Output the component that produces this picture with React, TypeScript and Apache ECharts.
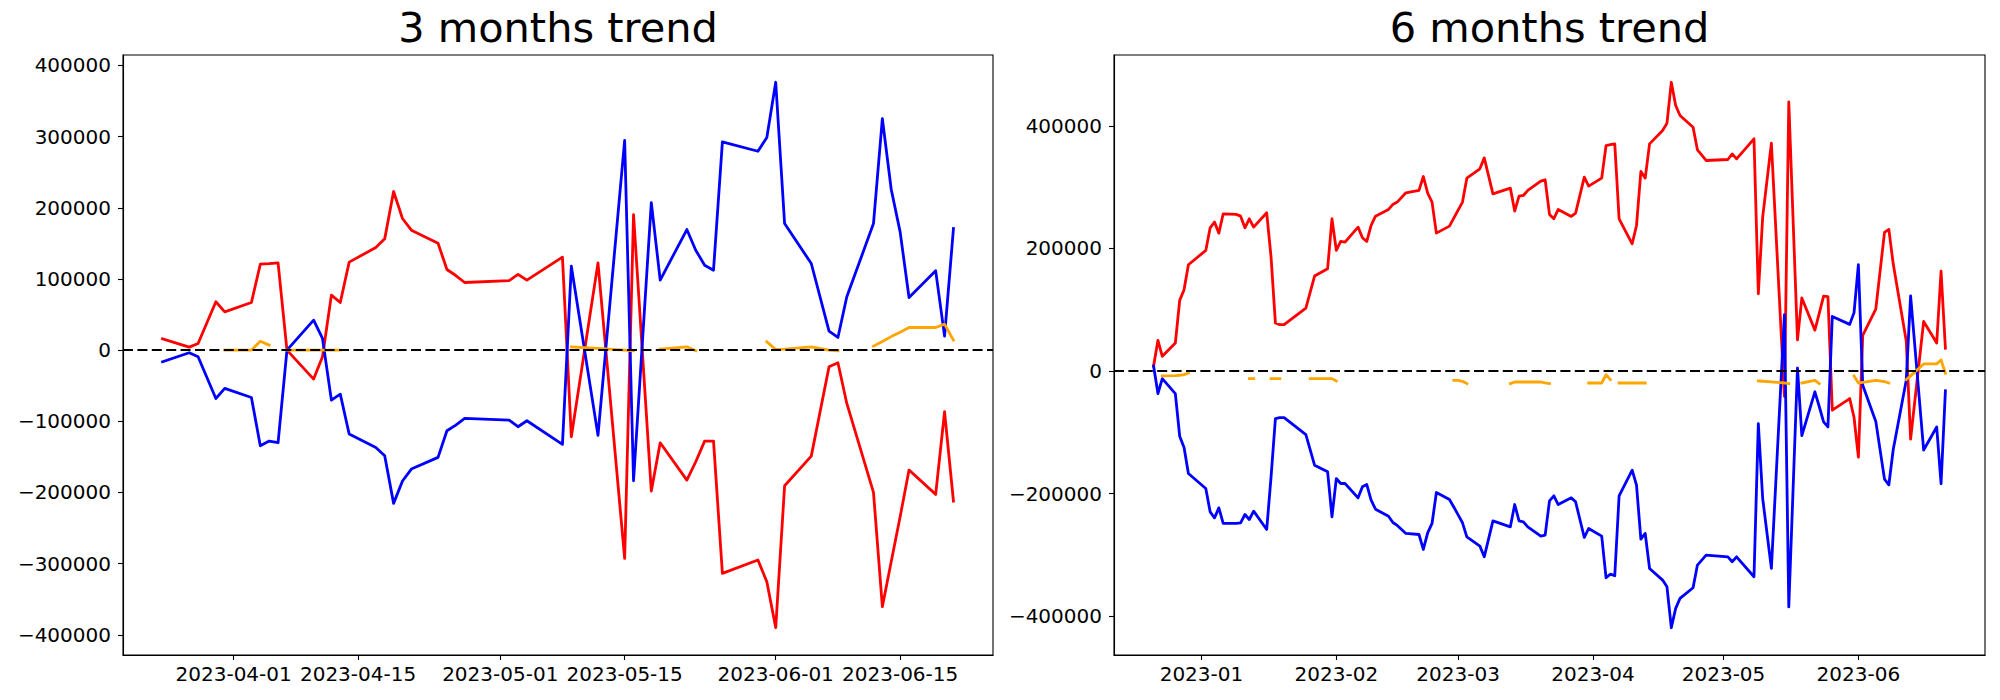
import React, { useEffect, useRef } from "react";
import * as echarts from "echarts";

// ---------- 3 months trend ----------
const dates3m = [
  "2023-03-24", "2023-03-27", "2023-03-28", "2023-03-30", "2023-03-31",
  "2023-04-03", "2023-04-04", "2023-04-05", "2023-04-06", "2023-04-07",
  "2023-04-10", "2023-04-11", "2023-04-12", "2023-04-13", "2023-04-14",
  "2023-04-17", "2023-04-18", "2023-04-19", "2023-04-20", "2023-04-21",
  "2023-04-24", "2023-04-25", "2023-04-26", "2023-04-27", "2023-05-02",
  "2023-05-03", "2023-05-04", "2023-05-08", "2023-05-09", "2023-05-12",
  "2023-05-15", "2023-05-16", "2023-05-18", "2023-05-19", "2023-05-22",
  "2023-05-23", "2023-05-24", "2023-05-25", "2023-05-26", "2023-05-30",
  "2023-05-31", "2023-06-01", "2023-06-02", "2023-06-05", "2023-06-07",
  "2023-06-08", "2023-06-09", "2023-06-12", "2023-06-13", "2023-06-14",
  "2023-06-15", "2023-06-16", "2023-06-19", "2023-06-20", "2023-06-21",
];
const red3m = [
  15900, 4200, 9400, 67900, 53800,
  66900, 120700, 121500, 122600, 0,
  -40700, -9400, 77200, 66900, 123600,
  144100, 156300, 222800, 184900, 168500,
  150200, 113300, 104800, 95000, 97500,
  106500, 98300, 130600, -121700, 122600,
  -292600, 190500, -198000, -130200, -182600,
  -156800, -127800, -127800, -313700, -294900,
  -325400, -390000, -190500, -148900, -23400,
  -17800, -74900, -199900, -360500, -297000,
  -234100, -168500, -202700, -86600, -212100,
];
const blue3m = [
  -16400, -3700, -9400, -67900, -53800,
  -66500, -134400, -127800, -130100, 0,
  42100, 16400, -70200, -61800, -117900,
  -136700, -148400, -215300, -183900, -167100,
  -150700, -113300, -105300, -95900, -98300,
  -107600, -99200, -132400, 117900, -119800,
  294800, -183500, 207300, 98300, 169400,
  140400, 119300, 112300, 292500, 279400,
  298600, 376300, 177800, 121700, 26700,
  17800, 74900, 177800, 325300, 225600,
  166100, 73900, 111400, 19700, 170800,
];
const orange3m = [
  null, null, null, null, 0,
  0, 12600, 7000, null, 0,
  0, 0, 0, 0, null,
  null, null, null, null, null,
  null, null, null, null, null,
  null, null, null, 4500, 2500,
  0, -1000, null, 1400, 4700,
  -900, null, null, null, null,
  11700, 900, 1500, 4700, 0,
  -900, null, 5600, 12000, 19000,
  25000, 31800, 31800, 36500, 14000,
];
const xTicks3m = ["2023-04-01", "2023-04-15", "2023-05-01", "2023-05-15", "2023-06-01", "2023-06-15"];
const yTicks3m = [-400000, -300000, -200000, -100000, 0, 100000, 200000, 300000, 400000];

// ---------- 6 months trend ----------
const dates6m = [
  "2022-12-21", "2022-12-22", "2022-12-23", "2022-12-26", "2022-12-27",
  "2022-12-28", "2022-12-29", "2023-01-02", "2023-01-03", "2023-01-04",
  "2023-01-05", "2023-01-06", "2023-01-09", "2023-01-10", "2023-01-11",
  "2023-01-12", "2023-01-13", "2023-01-16", "2023-01-17", "2023-01-18",
  "2023-01-19", "2023-01-20", "2023-01-25", "2023-01-26", "2023-01-27",
  "2023-01-30", "2023-01-31", "2023-02-01", "2023-02-02", "2023-02-03",
  "2023-02-06", "2023-02-07", "2023-02-08", "2023-02-09", "2023-02-10",
  "2023-02-13", "2023-02-14", "2023-02-15", "2023-02-17", "2023-02-20",
  "2023-02-21", "2023-02-22", "2023-02-23", "2023-02-24", "2023-02-27",
  "2023-02-28", "2023-03-01", "2023-03-02", "2023-03-03", "2023-03-06",
  "2023-03-07", "2023-03-09", "2023-03-13", "2023-03-14", "2023-03-15",
  "2023-03-16", "2023-03-17", "2023-03-20", "2023-03-21", "2023-03-22",
  "2023-03-23", "2023-03-24", "2023-03-27", "2023-03-28", "2023-03-30",
  "2023-03-31", "2023-04-03", "2023-04-04", "2023-04-05", "2023-04-06",
  "2023-04-07", "2023-04-10", "2023-04-11", "2023-04-12", "2023-04-13",
  "2023-04-14", "2023-04-17", "2023-04-18", "2023-04-19", "2023-04-20",
  "2023-04-21", "2023-04-24", "2023-04-25", "2023-04-27", "2023-05-02",
  "2023-05-03", "2023-05-04", "2023-05-08", "2023-05-09", "2023-05-10",
  "2023-05-12", "2023-05-15", "2023-05-16", "2023-05-18", "2023-05-19",
  "2023-05-22", "2023-05-23", "2023-05-24", "2023-05-25", "2023-05-26",
  "2023-05-30", "2023-05-31", "2023-06-01", "2023-06-02", "2023-06-05",
  "2023-06-07", "2023-06-08", "2023-06-09", "2023-06-12", "2023-06-13",
  "2023-06-16", "2023-06-19", "2023-06-20", "2023-06-21",
];
const red6m = [
  8000, 50000, 23900, 45600, 115200,
  132600, 173300, 196700, 233600, 242900,
  224900, 256400, 255400, 252600, 233600,
  248300, 234700, 258100, 185800, 78200,
  75500, 75500, 102700, 128800, 154800,
  166800, 248300, 196700, 211300, 210300,
  234700, 217300, 211300, 237400, 252600,
  263500, 271700, 275500, 290700, 294500,
  317300, 290100, 275500, 224900, 236300,
  249400, 262400, 275500, 314600, 329800,
  347700, 289000, 298300, 260800, 285200,
  286300, 294500, 309700, 311900, 255400,
  248300, 263500, 252100, 257500, 316200,
  301500, 314600, 367800, 369400, 370500,
  248300, 207500, 237400, 325400, 314600,
  370500, 392300, 404200, 471000, 433000,
  416700, 397700, 360800, 343400, 345000,
  354200, 346100, 378700, 126000, 251000,
  371500, -41500, 438800, 50600, 119200,
  66600, 94000, 122000, 121400, -64000,
  -45000, -75900, -140700, 58100, 101000,
  226200, 231000, 174800, 49000, -111200,
  80700, 45600, 162700, 37100,
];
const blue6m = [
  8000, -36900, -12500, -36900, -106500,
  -125000, -167300, -191800, -229800, -239600,
  -223300, -248800, -248800, -247700, -234200,
  -242300, -228700, -258600, -172800, -77700,
  -76100, -76100, -103800, -128800, -153800,
  -164600, -238000, -175500, -183600, -183600,
  -207000, -189000, -185300, -210800, -225500,
  -236900, -247200, -252000, -265100, -266800,
  -291200, -264000, -248800, -198300, -209700,
  -222000, -234700, -247700, -270600, -285800,
  -303200, -244500, -254300, -217900, -244500,
  -246100, -254300, -269500, -267800, -211900,
  -203700, -217900, -207000, -213500, -271700,
  -257000, -269500, -337400, -331400, -334100,
  -203700, -161900, -186400, -274400, -265100,
  -322200, -341200, -352100, -418900, -387400,
  -371100, -353700, -316700, -300500, -303200,
  -311300, -303200, -335800, -85800, -208100,
  -322000, 91900, -385000, 4800, -105600,
  -34000, -58000, -83000, -91300, 89000,
  76000, 95200, 173400, -23400, -82300,
  -176400, -185700, -128600, -15000, 122500,
  -129000, -91500, -184000, -32300,
];
const orange6m = [
  null, null, -8100, -7500, -7000,
  -6000, -3300, null, null, null,
  null, null, null, null, null,
  -12500, -12500, null, -12500, -12500,
  -12500, null, null, -12500, -12500,
  -12500, -12500, -16300, null, null,
  null, null, null, null, null,
  null, null, null, null, null,
  null, null, null, null, null,
  -15200, -15200, -16800, -20600, null,
  null, null, -20600, -18000, -18000,
  -18000, -18000, -18000, -19500, -20500,
  null, null, null, null, null,
  -19600, -19600, -6000, -14100, null,
  -19600, -19600, -19600, -19600, -19600,
  null, null, null, null, null,
  null, null, null, null, null,
  null, null, null, -16300, -16800,
  -17900, -19600, -20600, null, -19600,
  -15200, -20600, null, null, null,
  null, -8100, -19600, -18500, -15200,
  -17500, -19600, null, -14000, -8000,
  11500, 11500, 17800, -3800,
];
const xTicks6m = ["2023-01-01", "2023-02-01", "2023-03-01", "2023-04-01", "2023-05-01", "2023-06-01"];
const yTicks6m = [-400000, -200000, 0, 200000, 400000];

const titles = ["3 months trend", "6 months trend"];

const FONT = "DejaVu Sans";
const ts = (s: string) => Date.parse(s + "T00:00:00Z");
const fmtNum = (v: number) => (v < 0 ? "\u2212" + Math.abs(v) : String(v));

function pad(lo: number, hi: number) {
  const r = hi - lo;
  return [lo - 0.05 * r, hi + 0.05 * r];
}

function buildPanel(
  idx: number,
  dates: string[],
  red: number[],
  blue: number[],
  orange: (number | null)[],
  xTicks: string[],
  yTicks: number[],
  fmtDate: (v: number) => string
) {
  const xs = dates.map(ts);
  const [xmin, xmax] = pad(xs[0], xs[xs.length - 1]);
  const all = [...red, ...blue, ...(orange.filter((v) => v !== null) as number[])];
  const [ymin, ymax] = pad(Math.min(...all), Math.max(...all));
  const axisLine = { show: true, onZero: false, lineStyle: { color: "#000", width: 1.1 } };
  const tick = { length: 5, lineStyle: { color: "#000", width: 1.1 } };
  const label = { fontFamily: FONT, fontSize: 20, color: "#000" };
  const xAxis = {
    type: "value",
    gridIndex: idx,
    min: xmin,
    max: xmax,
    splitLine: { show: false },
    axisLine,
    axisTick: { show: true, customValues: xTicks.map(ts), ...tick },
    axisLabel: { ...label, margin: 9, customValues: xTicks.map(ts), formatter: (v: number) => fmtDate(v) },
  };
  const yAxis = {
    type: "value",
    gridIndex: idx,
    min: ymin,
    max: ymax,
    splitLine: { show: false },
    axisLine,
    axisTick: { show: true, customValues: yTicks, ...tick },
    axisLabel: { ...label, margin: 12, customValues: yTicks, formatter: (v: number) => fmtNum(v) },
  };
  const mk = (vals: (number | null)[], color: string, z: number, extra: any = {}) => ({
    type: "line",
    xAxisIndex: idx,
    yAxisIndex: idx,
    data: xs.map((x, i) => [x, vals[i] === null ? "-" : vals[i]]),
    showSymbol: false,
    symbol: "none",
    connectNulls: false,
    silent: true,
    z,
    lineStyle: { color, width: 2.8, join: "round", cap: "square" },
    itemStyle: { color },
    ...extra,
  });
  const series = [
    mk(red, "#ff0000", 2),
    mk(blue, "#0000ff", 3),
    mk(orange, "#ffa500", 4, {
      markLine: {
        silent: true,
        symbol: ["none", "none"],
        label: { show: false },
        lineStyle: { color: "#000", type: [10, 4.4], width: 2 },
        data: [{ yAxis: 0 }],
      },
    }),
  ];
  return { xAxis, yAxis, series };
}

export default function App() {
  const ref = useRef<HTMLDivElement>(null);
  useEffect(() => {
    document.body.style.margin = "0";
    if (!ref.current) return;
    const chart = echarts.init(ref.current, undefined, { renderer: "svg" });
    const p1 = buildPanel(0, dates3m, red3m, blue3m, orange3m, xTicks3m, yTicks3m, (v) =>
      new Date(v).toISOString().slice(0, 10)
    );
    const p2 = buildPanel(1, dates6m, red6m, blue6m, orange6m, xTicks6m, yTicks6m, (v) =>
      new Date(v).toISOString().slice(0, 7)
    );
    const grids = [
      { left: 123, top: 55, width: 870, height: 600 },
      { left: 1114, top: 55, width: 871, height: 600 },
    ];
    chart.setOption({
      animation: false,
      backgroundColor: "#fff",
      grid: grids.map((g) => ({ ...g, show: true, borderColor: "#000", borderWidth: 1.1, containLabel: false })),
      xAxis: [p1.xAxis, p2.xAxis],
      yAxis: [p1.yAxis, p2.yAxis],
      series: [...p1.series, ...p2.series],
      graphic: grids.map((g, i) => ({
        type: "text",
        x: g.left + g.width / 2,
        y: 27,
        silent: true,
        style: {
          text: titles[i],
          fontFamily: FONT,
          fontSize: 41.5,
          fill: "#000",
          align: "center",
          verticalAlign: "middle",
        },
      })),
    });
    return () => chart.dispose();
  }, []);
  return <div ref={ref} style={{ width: 2000, height: 700 }} />;
}
